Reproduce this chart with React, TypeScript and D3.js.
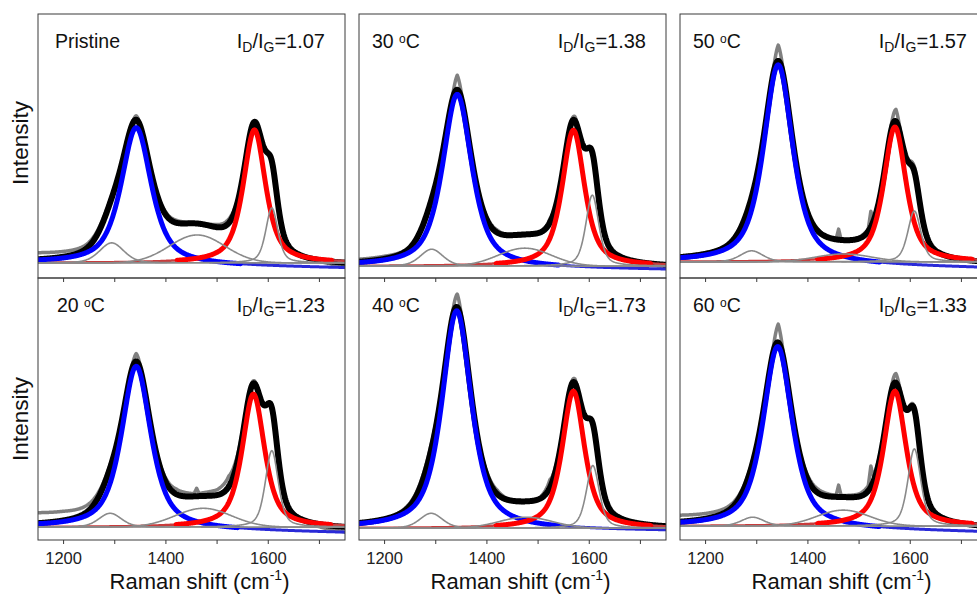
import React from 'react';
import * as d3 from 'd3';

// ---------- data ----------
const sampleNames = ['Pristine', '30', '50', '20', '40', '60'];
const ratioLabels = ['1.07', '1.38', '1.57', '1.23', '1.73', '1.33'];

// intensities in a.u. (panel full scale = 100)
const baseline = [5.7, 4.5, 6.1, 4.9, 4.5, 5.3];
const blueTilt = [-2.0, -1.4, -2.4, -2.2, -1.0, -2.4];

// D band (blue)
const dCenter = [1342, 1342, 1342, 1342, 1341, 1341];
const dHeight = [51.9, 65.5, 75.4, 62.1, 83.3, 69.3];
const dWidth = [35, 34, 34, 34, 34, 34];

// G band (red)
const gCenter = [1573, 1569, 1570, 1571, 1569, 1570];
const gHeight = [50.4, 51.5, 51.1, 50.8, 52.3, 51.5];
const gWidth = [26, 26, 26, 26, 26, 26];

// D' band (grey)
const d2Center = [1607, 1606, 1608, 1607, 1607, 1608];
const d2Height = [20.8, 26.9, 19.3, 29.2, 23.9, 29.5];
const d2Width = [14, 15, 15, 15, 15, 15];

// D4 band (grey)
const d4Center = [1294, 1292, 1290, 1291, 1291, 1292];
const d4Height = [7.6, 6.4, 4.2, 5.3, 5.7, 3.4];
const d4Width = [28, 26, 26, 26, 26, 26];

// D3 band (grey)
const d3Center = [1461, 1474, 1470, 1473, 1476, 1469];
const d3Height = [10.6, 6.8, 3.0, 7.2, 4.2, 6.1];
const d3Sigma = [54, 52, 55, 55, 52, 52];

// residual of the measured spectrum around the fit (a.u.)
const rawKnotX = [1150, 1200, 1250, 1290, 1330, 1342, 1355, 1400, 1420, 1455, 1460, 1465, 1500, 1518, 1523, 1528, 1560, 1572, 1585, 1610, 1650, 1700, 1750];
const rawResidual = [
  [2.5, 2, 1.5, 1, 0, 1.5, 0, 1, 1, 0, 0, 0, 1, 1.5, 1.5, 1.5, 0, 0, 0, 0, 0, -0.5, -1.5],
  [1, 1, 0.5, 0, 0, 5.5, 0, 1, 1, -0.5, -0.5, -0.5, 0, 1, 1.5, 1, 0.5, 1.5, 0, 0.5, 0, 0, 0],
  [0.5, 0.5, 0, 0, 0, 6, 0, 0.5, 0.5, 0, 4, 0, 0.5, 1, 6, 1, 1, 4.5, 0, 2, 0, 0, 0],
  [4, 3.5, 2.5, 1, 0, 3, 0, 1.5, 2, 1, 3, 1, 2, 3.5, 4, 3.5, 1, 1, 0.5, 0, 0, -1, -2],
  [0, 0, 1, 2, 0.5, 5, 0, 1.5, 1.5, -0.5, -0.5, -0.5, 0, 2, 3, 2, 0.5, 1.5, 0, 0, 0.5, 0, 0],
  [2.5, 2, 1.5, 1, 0.5, 7, 0, 1.5, 1.5, 0.5, 4.5, 0.5, 1, 2, 8, 2, 1, 3.5, 0.5, 1, 0.5, 0, -0.5],
];

const xTicks = [1200, 1300, 1400, 1500, 1600, 1700];
const xTickLabels = [1200, 1400, 1600];

// ---------- layout ----------
const W = 977;
const H = 597;
const colLeft = [38, 359, 680];
const panelW = 307;
const rowTop = [14, 278];
const rowH = [264, 262];
const labelInset = [17, 13, 13, 19, 13, 13];
const FONT = "'Liberation Sans', Arial, Helvetica, sans-serif";

// pseudo-Voigt line shape (w = half width at half maximum)
const pv = (x: number, c: number, h: number, w: number, eta: number) => {
  const u = ((x - c) / w) ** 2;
  return h * (eta / (1 + u) + (1 - eta) * Math.exp(-Math.LN2 * u));
};
const gau = (x: number, c: number, h: number, s: number) => h * Math.exp(-0.5 * ((x - c) / s) ** 2);

function Panel({ i }: { i: number }) {
  const col = i % 3;
  const row = Math.floor(i / 3);
  const left = colLeft[col];
  const top = rowTop[row];
  const h = rowH[row];
  const x = d3.scaleLinear().domain([1150, 1750]).range([left, left + panelW]);
  const y = d3.scaleLinear().domain([0, 100]).range([top + h, top]);
  const grid = d3.range(1150, 1750.5, 1);
  const resid = d3.scaleLinear().domain(rawKnotX).range(rawResidual[i]).clamp(true);

  const base = baseline[i];
  const tilt = (v: number) => (blueTilt[i] * (v - 1150)) / 600;
  const D = (v: number) => pv(v, dCenter[i], dHeight[i], dWidth[i], 0.7);
  const G = (v: number) => pv(v, gCenter[i], gHeight[i], gWidth[i], 0.7);
  const D2 = (v: number) => pv(v, d2Center[i], d2Height[i], d2Width[i], 0.5);
  const D4 = (v: number) => pv(v, d4Center[i], d4Height[i], d4Width[i], 0.3);
  const D3 = (v: number) => gau(v, d3Center[i], d3Height[i], d3Sigma[i]);
  const fit = (v: number) => base + tilt(v) * 0.5 + D(v) + G(v) + D2(v) + D4(v) + D3(v);

  const mk = (f: (v: number) => number, def?: (v: number) => boolean) => {
    const l = d3.line<number>().x((v) => x(v)).y((v) => y(f(v))).curve(d3.curveLinear);
    if (def) l.defined(def);
    return l(grid) || '';
  };

  const rawPath = mk((v) => fit(v) + resid(v));
  const fitPath = mk(fit);
  const blueF = (v: number) => base + tilt(v) + D(v);
  const redF = (v: number) => base + G(v);
  const blueThin = mk(blueF);
  const blueThick = mk(blueF, (v) => D(v) > 0.02 * dHeight[i]);
  const redThin = mk(redF);
  const redThick = mk(redF, (v) => G(v) > 0.02 * gHeight[i]);
  const grayPaths = [D2, D4, D3].map((f) => mk((v) => base + f(v)));

  const clipId = `clip${i}`;
  const isPristine = sampleNames[i] === 'Pristine';
  const bottom = top + h;

  return (
    <g>
      <defs>
        <clipPath id={clipId}>
          <rect x={left} y={top} width={panelW} height={h} />
        </clipPath>
      </defs>
      <g clipPath={`url(#${clipId})`} fill="none" strokeLinejoin="round" strokeLinecap="round">
        <path d={rawPath} stroke="#808080" strokeWidth={3.5} />
        <path d={fitPath} stroke="#000" strokeWidth={6} />
        <path d={redThin} stroke="#c83c3c" strokeWidth={2.5} />
        <path d={blueThin} stroke="#2a2ad8" strokeWidth={3} />
        <path d={blueThick} stroke="#0000ff" strokeWidth={5} />
        <path d={redThick} stroke="#ff0000" strokeWidth={5} />
        {grayPaths.map((d, k) => (
          <path key={k} d={d} stroke="#8a8a8a" strokeWidth={1.6} />
        ))}
      </g>
      <rect x={left} y={top} width={panelW} height={h} fill="none" stroke="#3a3a3a" strokeWidth={1} />
      {xTicks.map((t) => (
        <line key={t} x1={x(t)} x2={x(t)} y1={bottom} y2={bottom + 4} stroke="#3a3a3a" strokeWidth={1} />
      ))}
      {row === 1 &&
        xTickLabels.map((t) => (
          <text key={t} x={x(t)} y={564} textAnchor="middle" fontSize={16.5} fontFamily={FONT} fill="#222">
            {t}
          </text>
        ))}
      <text x={left + labelInset[i]} y={top + 34} fontSize={19.5} fontFamily={FONT} fill="#111">
        {isPristine ? (
          'Pristine'
        ) : (
          <>
            {sampleNames[i] + ' '}
            <tspan fontSize={12} dy={-5}>o</tspan>
            <tspan dy={5}>C</tspan>
          </>
        )}
      </text>
      <text x={left + panelW - 20} y={top + 34} textAnchor="end" fontSize={20} fontFamily={FONT} fill="#111">
        I<tspan fontSize={14} dy={4}>D</tspan>
        <tspan dy={-4}>/I</tspan>
        <tspan fontSize={14} dy={4}>G</tspan>
        <tspan dy={-4}>{'=' + ratioLabels[i]}</tspan>
      </text>
      {row === 1 && (
        <text x={left + panelW / 2 + 8} y={589} textAnchor="middle" fontSize={22} fontFamily={FONT} fill="#111">
          Raman shift (cm<tspan fontSize={14} dy={-9}>-1</tspan>
          <tspan dy={9}>)</tspan>
        </text>
      )}
    </g>
  );
}

export default function App() {
  return (
    <svg
      width={W}
      height={H}
      viewBox={`0 0 ${W} ${H}`}
      style={{ position: 'absolute', left: 0, top: 0, background: '#fff', overflow: 'hidden' }}
    >
      <rect x={0} y={0} width={W} height={H} fill="#fff" />
      {sampleNames.map((_, i) => (
        <Panel key={i} i={i} />
      ))}
      {[143, 419].map((cy, k) => (
        <text
          key={k}
          transform={`translate(28,${cy}) rotate(-90)`}
          textAnchor="middle"
          fontSize={22.5}
          fontFamily={FONT}
          fill="#111"
        >
          Intensity
        </text>
      ))}
    </svg>
  );
}
